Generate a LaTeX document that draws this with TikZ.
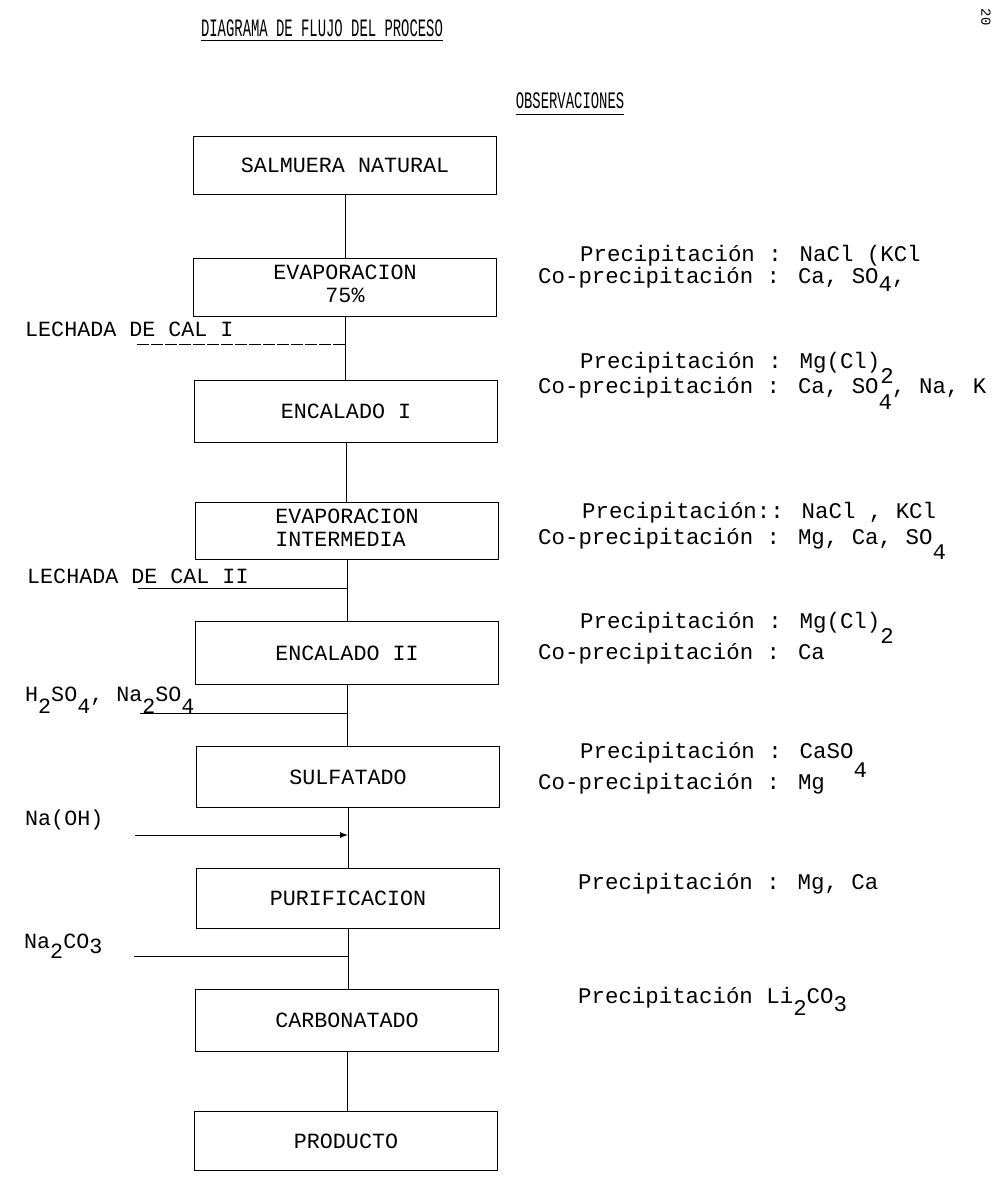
\documentclass[tikz,border=0pt]{standalone}
\usepackage{fontspec}
\newfontfamily\tw{Liberation Mono}
\usetikzlibrary{arrows.meta}
\newcommand\dn[2]{\raisebox{-#1pt}{#2}}
\newcommand\tfont{\tw\fontsize{21.7}{19}\selectfont}
\newcommand\ofont{\tw\fontsize{22.4}{19}\selectfont}
\begin{document}
\begin{tikzpicture}[x=1pt,y=-1pt,
  box/.style={draw, line width=1pt, minimum width=303pt, inner sep=0pt, align=center, font=\tfont},
  lbl/.style={anchor=west, inner sep=0pt, text height=12pt, text depth=0pt, font=\tfont},
  obs/.style={anchor=west, inner sep=0pt, text height=12.6pt, text depth=0pt, font=\ofont},
  hd/.style={inner sep=0pt, font=\tw\fontsize{13.9}{14}\selectfont},
  flow/.style={line width=1pt},
  feed/.style={line width=1pt}]
\fill[white] (0,0) rectangle (992,1179);
\useasboundingbox (0,0) rectangle (992,1179);

% headings
\node[hd] (title) at (322,28) {\scalebox{1}[1.8]{DIAGRAMA DE FLUJO DEL PROCESO}};
\draw[line width=0.8pt] ([yshift=-4pt]title.south west) -- ([yshift=-4pt]title.south east);
\node[hd] (obsh) at (570,101) {\scalebox{1}[1.7]{OBSERVACIONES}};
\draw[line width=0.8pt] ([yshift=-5pt]obsh.south west) -- ([yshift=-5pt]obsh.south east);
\node[hd, rotate=-90] (pg) at (986,17) {20};

% process boxes
\node[box, minimum height=58pt] (b1) at (345,165) {SALMUERA NATURAL};
\node[box, minimum height=58pt] (b2) at (345,287) {\begin{tabular}{@{}c@{}}EVAPORACION\\[3pt]75\%\end{tabular}};
\node[box, minimum height=62pt] (b3) at (346,411) {ENCALADO I};
\node[box, minimum height=57pt] (b4) at (347,531) {\raisebox{6pt}{\begin{tabular}{@{}l@{}}EVAPORACION\\[3pt]INTERMEDIA\end{tabular}}};
\node[box, minimum height=63pt] (b5) at (347,653) {ENCALADO II};
\node[box, minimum height=61pt] (b6) at (348,777) {SULFATADO};
\node[box, minimum height=60pt] (b7) at (348,898) {PURIFICACION};
\node[box, minimum height=62pt] (b8) at (347,1020) {CARBONATADO};
\node[box, minimum height=59pt] (b9) at (346,1141) {PRODUCTO};

% main flow
\draw[flow] (b1.south) -- (b1.south |- b2.north);
\draw[flow] (b2.south) -- (b2.south |- b3.north);
\draw[flow] (b3.south) -- (b3.south |- b4.north);
\draw[flow] (b4.south) -- (b4.south |- b5.north);
\draw[flow] (b5.south) -- (b5.south |- b6.north);
\draw[flow] (b6.south) -- (b6.south |- b7.north);
\draw[flow] (b7.south) -- (b7.south |- b8.north);
\draw[flow] (b8.south) -- (b8.south |- b9.north);

% feeds
\coordinate (f1) at (137,344);
\coordinate (f2) at (138,588);
\coordinate (f3) at (140,713);
\coordinate (f4) at (135,835);
\coordinate (f5) at (134,956);
\draw[feed, dash pattern=on 12pt off 2pt] (f1) -- (f1 -| b2.south);
\draw[feed] (f2) -- (f2 -| b4.south);
\draw[feed] (f3) -- (f3 -| b5.south);
\draw[feed, -{Latex[length=8pt,width=6pt]}] (f4) -- (f4 -| b6.south);
\draw[feed] (f5) -- (f5 -| b7.south);

% feed labels
\node[lbl] (l1) at (25,330) {LECHADA DE CAL I};
\node[lbl] (l2) at (27,577) {LECHADA DE CAL II};
\node[lbl] (l3) at (25,695) {H\dn{12}{2}SO\dn{12}{4}, Na\dn{12}{2}SO\dn{12}{4}};
\node[lbl] (l4) at (25,819) {Na(OH)};
\node[lbl] (l5) at (24,942) {Na\dn{10}{2}CO\dn{5}{3}};

% observations
\node[obs] (o1a) at (580,255) {Precipitación : NaCl (KCl};
\node[obs] (o1b) at (538,277) {Co-precipitación : Ca, SO\dn{8}{4},};
\node[obs] (o2a) at (580,362) {Precipitación : Mg(Cl)\dn{15}{2}};
\node[obs] (o2b) at (538,387) {Co-precipitación : Ca, SO\dn{16}{4}, Na, K};
\node[obs] (o3a) at (582,512) {Precipitación:: NaCl , KCl};
\node[obs] (o3b) at (538,538) {Co-precipitación : Mg, Ca, SO\dn{15}{4}};
\node[obs] (o4a) at (580,622) {Precipitación : Mg(Cl)\dn{15}{2}};
\node[obs] (o4b) at (538,653) {Co-precipitación : Ca};
\node[obs] (o5a) at (580,752) {Precipitación : CaSO\dn{19}{4}};
\node[obs] (o5b) at (538,783) {Co-precipitación : Mg};
\node[obs] (o6) at (578,883) {Precipitación : Mg, Ca};
\node[obs] (o7) at (578,997) {Precipitación Li\dn{12}{2}CO\dn{8}{3}};
\end{tikzpicture}
\end{document}
